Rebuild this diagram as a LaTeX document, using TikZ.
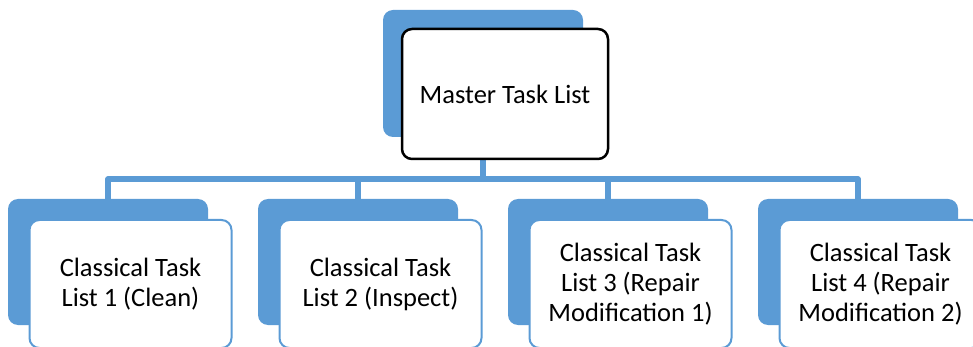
\documentclass[tikz,border=0pt]{standalone}
\usepackage{fontspec}
\setmainfont{Carlito}
\usetikzlibrary{positioning}
\definecolor{taskblue}{HTML}{5B9BD5}

\begin{document}
\begin{tikzpicture}[x=1pt, y=1pt,
	level distance=188.5pt, sibling distance=250pt,
	back/.style={rectangle, fill=taskblue, rounded corners=10pt, minimum width=200pt, minimum height=126pt, inner sep=0pt},
	front/.style={rectangle, fill=white, rounded corners=10pt, line width=2pt, minimum width=202pt, minimum height=128pt, inner sep=0pt, align=center, font=\fontsize{26.5}{30}\selectfont},
	edge from parent/.style={draw=taskblue, line width=5.5pt, line join=round},
	edge from parent path={(\tikzparentnode.south) -- ++(0,-42) -| (\tikzchildnode.north)}]
\useasboundingbox (0,0) rectangle (973,-347);
\node [back, minimum height=127pt] (m) at (483,-73.5) {}
	child { node [back] (c1) {} }
	child { node [back] (c2) {} }
	child { node [back] (c3) {} }
	child { node [back] (c4) {} }
;
\node [front, draw=black, line width=2.5pt, minimum width=206pt, minimum height=130pt] (mf) at ([shift={(22,-20.5)}]m.center) {Master Task List};
\node [front, draw=taskblue] (c1f) at ([shift={(22.5,-22)}]c1.center) {Classical Task\\List 1 (Clean)};
\node [front, draw=taskblue] (c2f) at ([shift={(22.5,-22)}]c2.center) {Classical Task\\List 2 (Inspect)};
\node [front, draw=taskblue] (c3f) at ([shift={(22.5,-22)}]c3.center) {Classical Task\\List 3 (Repair\\Modification 1)};
\node [front, draw=taskblue] (c4f) at ([shift={(22.5,-22)}]c4.center) {Classical Task\\List 4 (Repair\\Modification 2)};
\end{tikzpicture}
\end{document}
